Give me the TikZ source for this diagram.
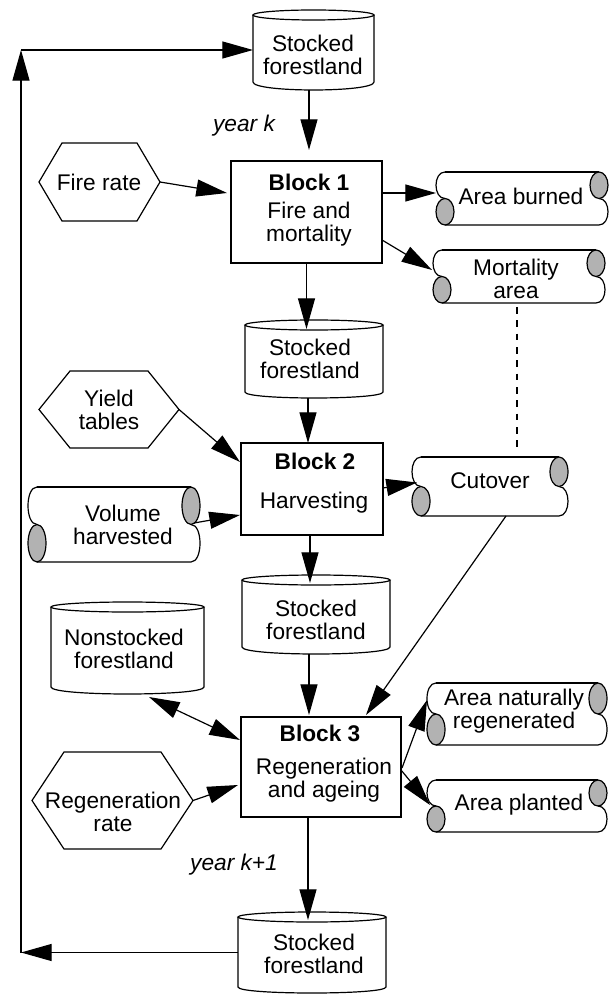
\documentclass[tikz,border=0pt]{standalone}
\usepackage{fontspec}
\setmainfont{Liberation Sans}
\usetikzlibrary{arrows.meta,calc,fit}
\definecolor{scrollgray}{RGB}{178,178,178}
\newcommand\fsz{\fontsize{17}{17.5}\selectfont}
\tikzset{
  shp/.style={draw=black, line width=0.9pt},
  anch/.style={inner sep=0pt, outer sep=0pt, draw=none},
  txt/.style={font=\fsz, align=center, inner sep=0pt},
  arr/.style={line width=0.9pt, -{Triangle[length=23pt,width=12.75pt]}},
  darr/.style={line width=0.9pt, {Triangle[length=23pt,width=12.75pt]}-{Triangle[length=23pt,width=12.75pt]}},
  dashline/.style={line width=0.9pt, dash pattern=on 5pt off 5pt},
}
% cylinder: name, x0, x1, ytop, yside, ry, sag
\newcommand\mycyl[7]{%
  \draw[shp] (#2,{#4+#6}) -- (#2,#5) .. controls (#2,{#5+1.333*#7}) and (#3,{#5+1.333*#7}) .. (#3,#5) -- (#3,{#4+#6});
  \draw[shp] ({(#2+#3)/2},{#4+#6}) ellipse [x radius={(#3-#2)*0.375pt}, y radius={#6*0.75pt}];
  \node[anch, fit={(#2,#4) (#3,{#5+#7})}] (#1) {};
}
% block: name, x0, x1, yt, yb
\newcommand\myblock[5]{%
  \draw[shp] (#2,#4) rectangle (#3,#5);
  \node[anch, fit={(#2,#4) (#3,#5)}] (#1) {};
}
% hexagon: name, x0, x1, inset, yt, yb
\newcommand\myhex[6]{%
  \draw[shp] (#2,{(#5+#6)/2}) -- ({#2+#4},#5) -- ({#3-#4},#5) -- (#3,{(#5+#6)/2}) -- ({#3-#4},#6) -- ({#2+#4},#6) -- cycle;
  \node[anch, fit={(#2,#5) (#3,#6)}] (#1) {};
}
% scroll: name, x0, x1, yt, yb
\newcommand\myscroll[5]{%
  \pgfmathsetmacro\sq{(#5-#4)/4}
  \draw[shp] ({#2+9},#4) -- ({#3-9},#4);
  \draw[shp] ({#3-9},{#4+2*\sq}) .. controls ({#3+3},{#4+2*\sq}) and ({#3+3},#5) .. ({#3-9},#5) -- ({#2+9},#5);
  \draw[shp] ({#2+9},#4) .. controls ({#2-3},#4) and ({#2-3},{#4+2*\sq}) .. ({#2+9},{#4+2*\sq});
  \draw[shp, fill=scrollgray] ({#3-9},{#4+\sq}) ellipse [x radius=6.75pt, y radius={\sq*0.75pt}];
  \draw[shp, fill=scrollgray] ({#2+9},{#5-\sq}) ellipse [x radius=6.75pt, y radius={\sq*0.75pt}];
  \node[anch, fit={(#2,#4) (#3,#5)}] (#1) {};
}
\begin{document}
\begin{tikzpicture}[x=0.75pt,y=-0.75pt]
\useasboundingbox (0,0) rectangle (608,994);

% cylinders
\mycyl{sf1}{253}{374}{10}{82}{5}{8}
\mycyl{sf2}{245}{383}{320}{392}{5}{6}
\mycyl{sf3}{242}{390}{575}{647}{5}{7}
\mycyl{ns}{51}{204}{602}{687}{5}{7}
\mycyl{sf5}{238}{386}{912}{987}{5}{6}
\node[txt] (sf1t) at (313,55) {Stocked\\forestland};
\node[txt] (sf2t) at (310,359) {Stocked\\forestland};
\node[txt] (sf3t) at (316,620) {Stocked\\forestland};
\node[txt] (nst) at (124,649) {Nonstocked\\forestland};
\node[txt] (sf5t) at (314,954) {Stocked\\forestland};

% blocks
\myblock{b1}{231}{382}{161}{263}
\node[txt, font=\fsz\bfseries] (b1h) at (309,182) {Block 1};
\node[txt] (b1x) at (309,224) {Fire and\\mortality};
\myblock{b2}{241}{383}{443}{535}
\node[txt, font=\fsz\bfseries] (b2h) at (315,461) {Block 2};
\node[txt] (b2x) at (314,503) {Harvesting};
\myblock{b3}{241}{401}{717}{817}
\node[txt, font=\fsz\bfseries] (b3h) at (320,733) {Block 3};
\node[txt] (b3x) at (324,780) {Regeneration\\and ageing};

% hexagons
\myhex{fire}{39}{160}{23}{143}{221}
\node[txt] (firet) at (99,182) {Fire rate};
\myhex{yield}{39}{179}{31}{371}{448}
\node[txt] (yieldt) at (109,410) {Yield\\tables};
\myhex{regen}{32}{193}{32}{752}{849}
\node[txt] (regent) at (113,812) {Regeneration\\rate};

% scrolls
\myscroll{burned}{436}{608}{172}{225}
\node[txt] (burnedt) at (521,196) {Area burned};
\myscroll{mort}{433}{605}{250}{303}
\node[txt] (mortt) at (516,279) {Mortality\\area};
\myscroll{cut}{412}{568}{457}{516}
\node[txt] (cutt) at (490,481) {Cutover};
\myscroll{vol}{28}{200}{487}{562}
\node[txt] (volt) at (123,525) {Volume\\harvested};
\myscroll{nat}{427}{607}{683}{745}
\node[txt] (natt) at (514,711) {Area naturally\\regenerated};
\myscroll{plant}{427}{607}{780}{832}
\node[txt] (plantt) at (519,805) {Area planted};

% labels
\node[txt, font=\fsz\itshape] (yk) at (244,126) {year k};
\node[txt, font=\fsz\itshape] (yk1) at (234,865) {year k+1};

% connectors
\draw[arr] ($(sf1.south)+(-4.5,0)$) -- ($(b1.north)+(2.5,-11)$);
\draw[arr] ($(b1.east)+(0,-19)$) -- ($(burned.west)+(0,-5.5)$);
\draw[arr] ($(b1.east)+(0,28)$) -- ($(mort.west)+(-1,-6.5)$);
\draw[arr] (fire.east) -- ($(b1.west)+(-4,-19)$);
\draw[arr] (b1.south) -- ($(sf2.north)+(-7.5,9)$);
\draw[arr] ($(sf2.south)+(-6,0)$) -- ($(b2.north)+(-4,0)$);
\draw[arr] (yield.east) -- ($(b2.west)+(-1,-27)$);
\draw[arr] ($(vol.east)+(-6,-1.5)$) -- ($(b2.west)+(-1,26)$);
\draw[arr] ($(b2.east)+(0,-1)$) -- ($(cut.west)+(5,-4)$);
\draw[dashline] ($(mort.south)+(-2,4)$) -- ($(cut.north)+(27,-5)$);
\draw[arr] ($(b2.south)+(-2,0)$) -- ($(sf3.north)+(-6,8)$);
\draw[arr] ($(sf3.south)+(-7,0)$) -- ($(b3.north)+(-12,-2)$);
\draw[arr] ($(cut.south)+(16,0)$) -- ($(b3.north)+(45,-2)$);
\draw[darr] ($(ns.south)+(21.5,3)$) -- ($(b3.west)+(-1,-27)$);
\draw[arr] (regen.east) -- ($(b3.west)+(-3,18)$);
\draw[arr] ($(b3.east)+(1,1)$) -- ($(nat.west)+(0,-14)$);
\draw[arr] ($(b3.east)+(0,3)$) -- ($(plant.west)+(3,-1)$);
\draw[arr] ($(b3.south)+(-13,0)$) -- ($(sf5.north)+(-4,8)$);
\coordinate (lb) at (21,952.5);
\coordinate (lt) at (21,50);
\draw[arr] (sf5.west) -- (lb);
\draw[arr] (lb) -- (lt);
\draw[arr] (lt) -- (sf1.west);
\end{tikzpicture}
\end{document}
